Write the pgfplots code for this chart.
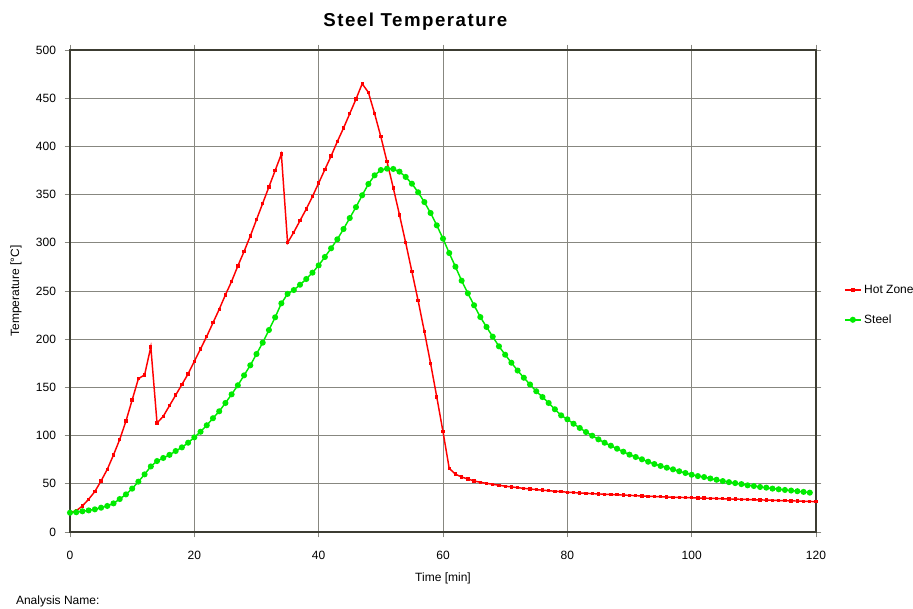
\documentclass[border=0pt]{standalone}
\usepackage{pgfplots}
\pgfplotsset{compat=1.18}
\usepackage{fontspec}
\setmainfont{Liberation Sans}
\definecolor{hot}{RGB}{255,0,0}
\definecolor{stl}{RGB}{0,235,0}
\definecolor{gridc}{RGB}{135,135,128}
\definecolor{framec}{RGB}{60,60,50}
\begin{document}
\begin{tikzpicture}
\useasboundingbox (0,0) rectangle (684.75pt,456.75pt);
\begin{axis}[
  at={(52.5pt,57.75pt)}, anchor=south west,
  scale only axis, width=559.5pt, height=361.5pt,
  xmin=0, xmax=120, ymin=0, ymax=500,
  xtick={0,20,...,120}, ytick={0,50,...,500},
  grid=major, major grid style={gridc, line width=0.7pt},
  axis line style={framec, line width=0.8pt},
  tick style={gridc, line width=0.7pt},
  tick align=outside, major tick length=4pt,
  /pgf/number format/assume math mode=true,
  ticklabel style={font=\fontsize{9}{11}\selectfont},
  xticklabel style={yshift=-6.5pt},
  yticklabel style={xshift=-3pt},
  xlabel={Time [min]}, ylabel={Temperature [°C]},
  label style={font=\fontsize{9}{11}\selectfont},
  xlabel style={at={(axis description cs:0.5,-0.0954)}, anchor=center},
  ylabel style={at={(axis description cs:-0.0724,0.5)}, anchor=center},
  legend style={at={(1.032,0.471)}, anchor=west, draw=none, fill=none,
    font=\fontsize{9}{11}\selectfont, row sep=10.5pt},
  legend image code/.code={\draw[#1, mark repeat=2, mark phase=2] plot coordinates {(0cm,0cm) (0.21cm,0cm) (0.42cm,0cm)};},
  legend cell align=left,
  clip=false,
]
\addplot[hot, line width=1.1pt, mark=square*, mark size=0.7pt, mark options={hot}] coordinates {
(0,20)(1,22)(2,27)(3,34)(4,42)(5,53)(6,65)(7,80)(8,96)(9,115)(10,137)
(11,159)(12,163)(13,192)(14,113)(15,120)(16,131)(17,142)(18,153)(19,164)(20,177)
(21,190)(22,203)(23,217)(24,231)(25,246)(26,260)(27,276)(28,291)(29,307)(30,324)
(31,341)(32,358)(33,375)(34,392)(35,300)(36,311)(37,323)(38,335)(39,348)(40,362)
(41,376)(42,390)(43,405)(44,419)(45,434)(46,449)(47,465)(48,456)(49,434)(50,410)
(51,384)(52,357)(53,329)(54,300)(55,270)(56,240)(57,208)(58,175)(59,140)(60,104)
(61,66)(62,60)(63,57)(64,55)(65,53)(66,51.5)(67,50.5)(68,49.5)(69,48.5)(70,47.5)
(71,46.8)(72,46)(73,45.3)(74,44.6)(75,44)(76,43.4)(77,42.8)(78,42.3)(79,41.8)(80,41.3)
(81,40.9)(82,40.5)(83,40.1)(84,39.8)(85,39.5)(86,39.2)(87,38.9)(88,38.6)(89,38.3)(90,38)
(91,37.7)(92,37.4)(93,37.1)(94,36.8)(95,36.5)(96,36.3)(97,36.1)(98,35.9)(99,35.7)(100,35.5)
(101,35.3)(102,35.1)(103,34.9)(104,34.7)(105,34.5)(106,34.3)(107,34.1)(108,33.9)(109,33.7)(110,33.5)
(111,33.3)(112,33.1)(113,32.9)(114,32.7)(115,32.5)(116,32.3)(117,32.1)(118,31.9)(119,31.7)(120,31.5)
};
\addlegendentry{Hot Zone}
\addplot[stl, line width=1.1pt, mark=*, mark size=1.7pt, mark options={stl}] coordinates {
(0,20)(1,20.5)(2,21.5)(3,22.4)(4,23.5)(5,25.2)(6,27)(7,29.7)(8,34.2)(9,39)(10,45)
(11,52.2)(12,59.8)(13,68)(14,73.6)(15,76.8)(16,80)(17,84)(18,87.8)(19,92.6)(20,98.2)
(21,104)(22,110.7)(23,118)(24,125.2)(25,133.8)(26,142.8)(27,152.2)(28,162.5)(29,172.9)(30,184.6)
(31,196.4)(32,209.5)(33,222.7)(34,237.2)(35,247)(36,251)(37,256.5)(38,262.4)(39,269)(40,276.6)
(41,285.3)(42,294.3)(43,303.6)(44,314.3)(45,325.7)(46,337)(47,349.3)(48,361)(49,370)(50,375.5)
(51,376.9)(52,376.6)(53,373.8)(54,368.3)(55,361.3)(56,352.4)(57,342.3)(58,330.9)(59,318.1)(60,304.3)
(61,289.4)(62,275.2)(63,260.7)(64,247.6)(65,235.2)(66,223)(67,212.7)(68,202.6)(69,192.6)(70,183.9)
(71,175.6)(72,167.5)(73,160)(74,153)(75,146)(76,140)(77,133.8)(78,127.3)(79,121)(80,116.9)
(81,112.3)(82,107.9)(83,103.7)(84,99.9)(85,96.1)(86,92.6)(87,89.5)(88,86.4)(89,83.3)(90,80.2)
(91,77.8)(92,75.4)(93,72.9)(94,70.5)(95,68.5)(96,66.7)(97,65)(98,63)(99,61.2)(100,59.4)
(101,58)(102,57)(103,55.5)(104,54.2)(105,52.8)(106,51.7)(107,50.7)(108,49.7)(109,48.4)(110,47.7)
(111,46.7)(112,46)(113,45)(114,44.3)(115,43.6)(116,43)(117,42.3)(118,41.6)(119,40.8)
};
\addlegendentry{Steel}
\node[font=\bfseries\fontsize{14}{16}\selectfont\addfontfeature{LetterSpace=8}] at (rel axis cs:0.463,1.059) {Steel Temperature};
\end{axis}
\node[anchor=west, font=\fontsize{9}{11}\selectfont] at (8.5pt,6pt) {Analysis Name:};
\end{tikzpicture}
\end{document}
